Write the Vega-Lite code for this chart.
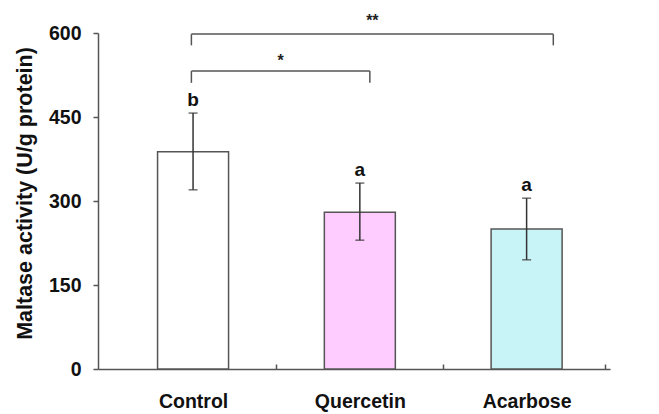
{
  "$schema": "https://vega.github.io/schema/vega-lite/v6.json",
  "width": 512,
  "height": 336,
  "autosize": {"type": "none"},
  "padding": {"left": 98, "top": 33, "right": 49, "bottom": 45},
  "background": "white",
  "config": {
    "view": {"stroke": null},
    "font": "Liberation Sans",
    "axis": {"grid": false}
  },
  "datasets": {
    "groups": [
      {"group": "Control", "rank": 1, "mean": 388, "lo": 320, "hi": 457, "letter": "b"},
      {"group": "Quercetin", "rank": 2, "mean": 280, "lo": 230, "hi": 332, "letter": "a"},
      {"group": "Acarbose", "rank": 3, "mean": 250, "lo": 195, "hi": 305, "letter": "a"}
    ],
    "brackets": [
      {"label": "*", "x1": 0.99, "x2": 2.06, "mid": 1.525, "y": 532, "leg": 511, "ty": 541},
      {"label": "**", "x1": 0.99, "x2": 3.16, "mid": 2.075, "y": 598, "leg": 578, "ty": 612}
    ]
  },
  "layer": [
    {
      "data": {"name": "groups"},
      "mark": {"type": "bar", "size": 71, "stroke": "#555555", "strokeWidth": 1.5},
      "encoding": {
        "x": {
          "field": "rank",
          "type": "quantitative",
          "scale": {"domain": [0.46, 3.47], "nice": false, "zero": false},
          "axis": {
            "title": null,
            "values": [1, 1.5, 2, 2.5, 3, 3.47],
            "labelExpr": "datum.value == 1 ? 'Control' : datum.value == 2 ? 'Quercetin' : datum.value == 3 ? 'Acarbose' : ''",
            "labelFont": "Liberation Sans",
            "labelFontWeight": "bold",
            "labelFontSize": 19.5,
            "labelColor": "#111111",
            "labelPadding": 28,
            "labelFlush": false,
            "labelOverlap": false,
            "tickSize": -5,
            "tickColor": "#555555",
            "tickWidth": 1.5,
            "tickOpacity": {"condition": {"test": "datum.value % 1 == 0", "value": 0}, "value": 1},
            "domainColor": "#555555",
            "domainWidth": 1.5
          }
        },
        "y": {
          "field": "mean",
          "type": "quantitative",
          "scale": {"domain": [0, 600], "nice": false},
          "axis": {
            "title": "Maltase activity (U/g protein)",
            "titleFont": "Liberation Sans",
            "titleFontWeight": "bold",
            "titleFontSize": 21.5,
            "titleColor": "#111111",
            "titlePadding": 12,
            "titleY": 160,
            "values": [0, 150, 300, 450, 600],
            "labelFont": "Liberation Sans",
            "labelFontWeight": "bold",
            "labelFontSize": 19.5,
            "labelColor": "#111111",
            "labelPadding": 12,
            "tickSize": 5,
            "tickColor": "#555555",
            "tickWidth": 1.5,
            "domainColor": "#555555",
            "domainWidth": 1.5
          }
        },
        "fill": {
          "field": "group",
          "type": "nominal",
          "scale": {"domain": ["Control", "Quercetin", "Acarbose"], "range": ["#ffffff", "#ffccff", "#c9f4f7"]},
          "legend": null
        }
      }
    },
    {
      "data": {"name": "groups"},
      "mark": {"type": "rule", "color": "#333333", "strokeWidth": 1.5},
      "encoding": {
        "x": {"field": "rank", "type": "quantitative"},
        "y": {"field": "lo", "type": "quantitative"},
        "y2": {"field": "hi"}
      }
    },
    {
      "data": {"name": "groups"},
      "mark": {"type": "tick", "orient": "horizontal", "color": "#333333", "size": 9, "thickness": 1.5},
      "encoding": {
        "x": {"field": "rank", "type": "quantitative"},
        "y": {"field": "hi", "type": "quantitative"}
      }
    },
    {
      "data": {"name": "groups"},
      "mark": {"type": "tick", "orient": "horizontal", "color": "#333333", "size": 9, "thickness": 1.5},
      "encoding": {
        "x": {"field": "rank", "type": "quantitative"},
        "y": {"field": "lo", "type": "quantitative"}
      }
    },
    {
      "data": {"name": "groups"},
      "mark": {"type": "text", "font": "Liberation Sans", "fontWeight": "bold", "fontSize": 19, "color": "#111111", "baseline": "bottom", "dy": -3},
      "encoding": {
        "x": {"field": "rank", "type": "quantitative"},
        "y": {"field": "hi", "type": "quantitative"},
        "text": {"field": "letter"}
      }
    },
    {
      "data": {"name": "brackets"},
      "mark": {"type": "rule", "color": "#555555", "strokeWidth": 1.5},
      "encoding": {
        "x": {"field": "x1", "type": "quantitative"},
        "x2": {"field": "x2"},
        "y": {"field": "y", "type": "quantitative"}
      }
    },
    {
      "data": {"name": "brackets"},
      "transform": [{"fold": ["x1", "x2"], "as": ["end", "xpos"]}],
      "mark": {"type": "rule", "color": "#555555", "strokeWidth": 1.5},
      "encoding": {
        "x": {"field": "xpos", "type": "quantitative"},
        "y": {"field": "y", "type": "quantitative"},
        "y2": {"field": "leg"}
      }
    },
    {
      "data": {"name": "brackets"},
      "mark": {"type": "text", "font": "Liberation Sans", "fontWeight": "bold", "fontSize": 16, "color": "#222222", "baseline": "alphabetic"},
      "encoding": {
        "x": {"field": "mid", "type": "quantitative"},
        "y": {"field": "ty", "type": "quantitative"},
        "text": {"field": "label"}
      }
    }
  ]
}
